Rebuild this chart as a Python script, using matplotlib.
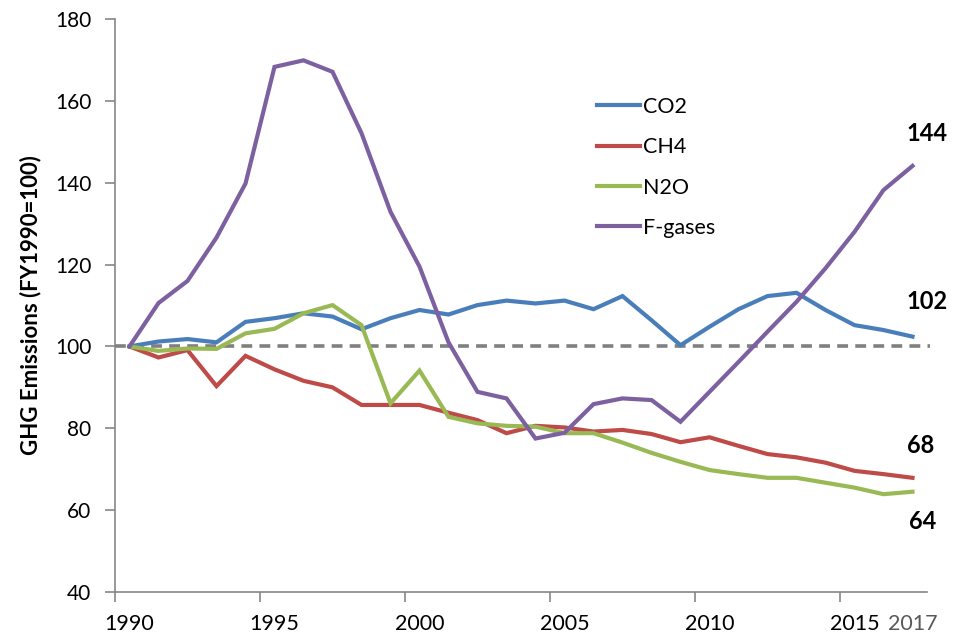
import matplotlib
matplotlib.use("Agg")
import matplotlib.pyplot as plt
import numpy as np

years = list(range(1990, 2018))
co2 = [100, 101.2, 101.8, 101.0, 106.0, 106.9, 108.1, 107.3, 104.2, 106.9, 108.9, 107.8, 110.1,
       111.2, 110.5, 111.2, 109.1, 112.3, 106.4, 100.3, 104.8, 109.1, 112.3, 113.1, 108.9, 105.2, 104.0, 102.4]
ch4 = [100, 97.3, 99.1, 90.3, 97.7, 94.4, 91.6, 90.0, 85.7, 85.7, 85.7, 83.8, 82.0,
       78.8, 80.6, 80.2, 79.2, 79.6, 78.6, 76.6, 77.8, 75.7, 73.7, 72.9, 71.6, 69.6, 68.8, 67.9]
n2o = [100, 98.9, 99.5, 99.4, 103.2, 104.3, 108.1, 110.1, 105.2, 86.1, 94.1, 82.8, 81.2,
       80.6, 80.4, 78.8, 78.8, 76.5, 74.0, 71.8, 69.8, 68.8, 67.9, 67.9, 66.7, 65.5, 63.9, 64.5]
fgas = [100, 110.6, 116.0, 126.6, 139.8, 168.3, 169.9, 167.1, 152.1, 132.9, 119.5, 101.0, 88.9,
        87.3, 77.5, 78.9, 85.9, 87.3, 86.9, 81.6, 88.9, 96.2, 103.6, 110.9, 119.1, 128.0, 138.2, 144.1]
series_names = ["CO2", "CH4", "N2O", "F-gases"]
series_colors = ["#4A7EBB", "#BE4B48", "#98B954", "#7D60A0"]
end_labels = ["102", "68", "64", "144"]
tick_years = [1990, 1995, 2000, 2005, 2010, 2015]

plt.rcParams['font.family'] = ['Lato', 'DejaVu Sans']

fig = plt.figure(figsize=(9.64, 6.34), dpi=100)
ax = fig.add_axes([115/964, 1-592/634, (927-115)/964, (592-19)/634])

x = np.arange(len(years))
ax.axhline(100, color="#808080", lw=2.6, ls=(0, (3, 2)), xmin=0, xmax=(930-115)/(927-115), clip_on=False, zorder=1)
for vals, name, col in zip([co2, ch4, n2o, fgas], series_names, series_colors):
    ax.plot(x, vals, color=col, lw=3.0, label=name, solid_joinstyle="miter", zorder=3)

ax.set_xlim(-0.5, len(years) - 0.5)
ax.set_ylim(40, 180)
ax.set_yticks(np.arange(40, 181, 20))

# x tick marks at category boundaries, labels at categories
ax.set_xticks([years.index(y) - 0.5 for y in tick_years])
ax.set_xticklabels([])
ax.tick_params(axis='x', length=7, width=1.2, color="#868686", direction='out')
ax.tick_params(axis='y', length=7, width=1.2, color="#868686", direction='out', labelsize=15, pad=10)
for y in tick_years:
    ax.text(years.index(y), 40 - 5.3, str(y), ha='center', va='top', fontsize=15.5, color="black")
ax.text(len(years) - 1, 40 - 5.3, "2017", ha='center', va='top', fontsize=15.5, color="#595959")

for s in ['top', 'right']:
    ax.spines[s].set_visible(False)
for s in ['left', 'bottom']:
    ax.spines[s].set_color("#868686")
    ax.spines[s].set_linewidth(1.2)

ax.set_ylabel("GHG Emissions (FY1990=100)", fontsize=16, fontweight='bold', labelpad=10)

# end labels
last = len(years) - 1
label_pos = {"102": (0.5, 8.5), "68": (0.28, 8.0), "64": (0.35, -7.2), "144": (0.5, 8.0)}
for vals, lab in zip([co2, ch4, n2o, fgas], end_labels):
    dx, dy = label_pos[lab]
    ax.text(last + dx, vals[-1] + dy, lab, ha='center', va='center',
            fontsize=17, fontweight='bold', clip_on=False)

leg = ax.legend(loc='upper left', bbox_to_anchor=((588-115)/812, (592-88)/573), frameon=False,
                fontsize=15.5, handlelength=2.0, handletextpad=0.15, labelspacing=0.95, borderaxespad=0)

fig.savefig("out.png", dpi=100)
